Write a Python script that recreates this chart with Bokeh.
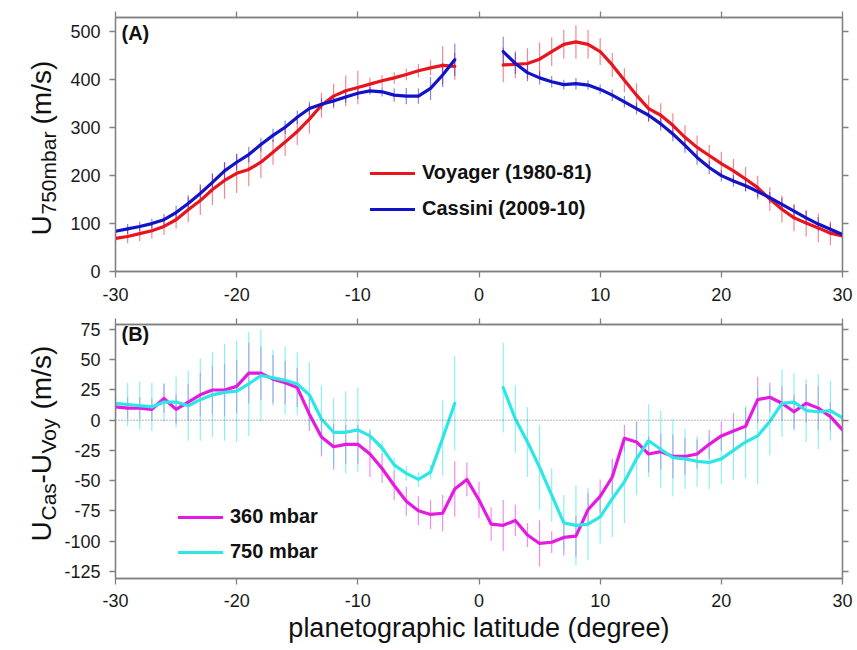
from bokeh.plotting import figure
from bokeh.models import (ColumnDataSource, Range1d, LinearAxis, Label, Legend,
                          LegendItem, FixedTicker, Span, CustomJSTickFormatter)
from bokeh.layouts import column, row
from bokeh.embed import file_html
from bokeh.resources import INLINE

# ---------------- data ----------------
x_ticks = [-30, -20, -10, 0, 10, 20, 30]
yA_ticks = [0, 100, 200, 300, 400, 500]
yB_ticks = [-125, -100, -75, -50, -25, 0, 25, 50, 75]

lat_s = list(range(-30, -1))   # -30 .. -2
lat_n = list(range(2, 31))     # 2 .. 30
lat_all = list(range(-30, 31)) # -30 .. 30

# Panel A: zonal wind at 750 mbar (m/s)
voy_s = [69, 73, 79, 85, 94, 108, 129, 148, 171, 190, 205, 213, 228, 249, 270,
         292, 318, 347, 366, 377, 384, 391, 398, 404, 411, 419, 425, 430, 428]
voy_s_err = [9, 14, 16, 16, 18, 19, 26, 30, 32, 38, 41, 35, 33, 26, 29,
             28, 30, 26, 26, 32, 35, 14, 12, 12, 12, 14, 16, 40, 28]
voy_n = [431, 432, 434, 443, 459, 474, 479, 474, 459, 431, 399, 368, 340, 326, 305,
         280, 259, 242, 225, 210, 193, 175, 151, 130, 112, 101, 91, 80, 74]
voy_n_err = [36, 28, 32, 35, 30, 30, 35, 30, 28, 25, 25, 25, 28, 25, 25,
             25, 25, 22, 25, 25, 25, 25, 25, 28, 28, 28, 30, 25, 10]
cas_s = [84, 89, 94, 100, 108, 123, 142, 163, 186, 210, 228, 244, 265, 284, 301,
         322, 340, 349, 356, 364, 372, 377, 375, 368, 366, 366, 382, 410, 442]
cas_s_err = [7, 10, 10, 10, 12, 14, 17, 19, 19, 18, 17, 16, 14, 14, 14,
             14, 14, 12, 12, 12, 12, 8, 10, 14, 17, 16, 24, 25, 34]
cas_n = [459, 434, 415, 404, 396, 390, 392, 389, 380, 368, 354, 340, 326, 308, 287,
         263, 238, 217, 200, 189, 179, 167, 154, 140, 126, 112, 99, 88, 77]
cas_n_err = [31, 22, 18, 14, 12, 10, 12, 10, 10, 12, 12, 12, 12, 14, 15,
             15, 15, 14, 12, 12, 12, 12, 12, 14, 14, 14, 14, 12, 8]

# Panel B: U_Cas - U_Voy (m/s)
d360 = [11, 10, 10, 9, 18, 9, 15, 21, 25, 25, 28, 39, 39, 34, 31, 27, 5, -14, -22, -20,
        -20, -28, -40, -54, -67, -75, -78, -77, -57, -49, -66, -86, -87, -83, -95, -102,
        -101, -97, -96, -74, -63, -47, -15, -18, -28, -26, -30, -30, -28, -20, -13, -9,
        -5, 17, 19, 14, 7, 14, 10, 3, -8]
d360_err = [8, 9, 9, 9, 12, 12, 15, 18, 20, 22, 22, 25, 22, 20, 18, 16, 14, 16, 19, 16,
            16, 19, 12, 12, 12, 12, 12, 15, 23, 14, 15, 14, 21, 13, 10, 19,
            9, 15, 17, 14, 14, 15, 11, 17, 15, 15, 18, 15, 12, 12, 12, 15,
            15, 19, 12, 14, 14, 16, 18, 12, 10]
d750_s = [14, 13, 12, 11, 15, 15, 12, 17, 21, 23, 24, 30, 37, 35, 33,
          30, 21, 1, -10, -10, -8, -13, -23, -37, -44, -49, -43, -15, 14]
d750_s_err = [18, 18, 20, 20, 16, 21, 29, 34, 35, 40, 42, 43, 38, 23, 28,
              26, 27, 28, 28, 34, 35, 6, 6, 6, 6, 6, 6, 31, 39]
d750_n = [27, 1, -18, -39, -62, -85, -87, -86, -80, -65, -51, -32, -17, -24, -31,
          -32, -34, -35, -32, -25, -18, -13, -1, 14, 15, 8, 7, 8, 2]
d750_n_err = [37, 28, 29, 35, 22, 23, 33, 30, 22, 32, 34, 30, 30, 32, 32,
              25, 21, 22, 21, 24, 30, 40, 28, 28, 24, 26, 31, 25, 20]

# ---------------- style ----------------
FONT = "Liberation Sans"
LW = 61            # width of the y-label strip
W = 857 - LW       # width of the two panels
C_VOY = "#e8141e"
C_CAS = "#1212c8"
C_360 = "#e619e1"
C_750 = "#2ee6e6"
AX_COL = "#808080"
TXT = "#111111"

fmt = CustomJSTickFormatter(code="return tick.toString();")


def style_axis(ax, labels, standoff):
    ax.axis_line_color = AX_COL
    ax.axis_line_width = 1.3
    ax.major_tick_line_color = AX_COL
    ax.major_tick_line_width = 1.3
    ax.major_tick_out = 6
    ax.major_tick_in = 0
    ax.minor_tick_line_color = None
    ax.major_label_text_font = FONT
    ax.major_label_text_color = "#1a1a1a"
    ax.formatter = fmt
    if labels:
        ax.major_label_text_font_size = "18px"
        ax.major_label_standoff = standoff
    else:
        ax.major_label_text_font_size = "0px"
        ax.major_label_text_alpha = 0
        ax.major_label_standoff = 0


def make_panel(yr, yticks, height, top, bottom, bottom_standoff, xlabel=None):
    p = figure(width=W, height=height, x_range=Range1d(-30, 30), y_range=Range1d(*yr),
               output_backend="svg", toolbar_location=None, tools="",
               x_axis_location=None, y_axis_location=None,
               min_border_left=115 - LW, min_border_right=857 - 842,
               min_border_top=top, min_border_bottom=bottom,
               outline_line_color=AX_COL, outline_line_width=1.3,
               background_fill_color="white", border_fill_color="white")
    p.grid.visible = False
    xt = FixedTicker(ticks=x_ticks, minor_ticks=[])
    yt = FixedTicker(ticks=yticks, minor_ticks=[])
    for loc, tk, lab, so in [("below", xt, True, bottom_standoff), ("above", xt, False, 0),
                             ("left", yt, True, 9), ("right", yt, False, 0)]:
        ax = LinearAxis(ticker=tk)
        style_axis(ax, lab, so)
        if loc == "below" and xlabel:
            ax.axis_label = xlabel
            ax.axis_label_text_font = FONT
            ax.axis_label_text_font_size = "27px"
            ax.axis_label_text_font_style = "normal"
            ax.axis_label_text_color = TXT
            ax.axis_label_standoff = 3
        p.add_layout(ax, loc)
    return p


def errbars(p, x, y, e, color, alpha):
    src = ColumnDataSource(dict(x=x, lo=[a - b for a, b in zip(y, e)],
                                hi=[a + b for a, b in zip(y, e)]))
    p.segment(x0="x", y0="lo", x1="x", y1="hi", source=src,
              line_color=color, line_alpha=alpha, line_width=1.2)


def curve(p, x, y, color):
    src = ColumnDataSource(dict(x=x, y=y))
    return p.line("x", "y", source=src, line_color=color, line_width=3.2,
                  line_join="round", line_cap="round")


def legend(items, loc, spacing):
    return Legend(items=items, location=loc, border_line_color=None,
                  background_fill_alpha=0, padding=0, margin=0,
                  glyph_width=45, glyph_height=20, label_standoff=7,
                  spacing=spacing, label_height=20,
                  label_text_font=FONT, label_text_font_style="bold",
                  label_text_font_size="20px", label_text_color=TXT)


# ---------------- panel A ----------------
pA = make_panel((0, 530), yA_ticks, 310, 17, 39, 10)
errbars(pA, lat_s, voy_s, voy_s_err, C_VOY, 0.5)
errbars(pA, lat_n, voy_n, voy_n_err, C_VOY, 0.5)
errbars(pA, lat_s, cas_s, cas_s_err, C_CAS, 0.5)
errbars(pA, lat_n, cas_n, cas_n_err, C_CAS, 0.5)
rv = curve(pA, lat_s, voy_s, C_VOY)
curve(pA, lat_n, voy_n, C_VOY)
rc = curve(pA, lat_s, cas_s, C_CAS)
curve(pA, lat_n, cas_n, C_CAS)
pA.add_layout(legend([LegendItem(label="Voyager (1980-81)", renderers=[rv]),
                      LegendItem(label="Cassini (2009-10)", renderers=[rc])],
                     (255, 51), 13))
pA.add_layout(Label(x=-30, y=530, x_offset=6, y_offset=-15, text="(A)",
                    text_font=FONT, text_font_style="bold", text_font_size="20px",
                    text_baseline="middle", text_color=TXT))

# ---------------- panel B ----------------
pB = make_panel((-131, 79.2), yB_ticks, 340, 14, 72, 9,
                xlabel="planetographic latitude (degree)")
pB.add_layout(Span(location=0, dimension="width", line_color="#555555",
                   line_dash="1 2", line_width=0.9))
errbars(pB, lat_all, d360, d360_err, C_360, 0.5)
errbars(pB, lat_s, d750_s, d750_s_err, C_750, 0.55)
errbars(pB, lat_n, d750_n, d750_n_err, C_750, 0.55)
r360 = curve(pB, lat_all, d360, C_360)
r750 = curve(pB, lat_s, d750_s, C_750)
curve(pB, lat_n, d750_n, C_750)
pB.add_layout(legend([LegendItem(label="360 mbar", renderers=[r360]),
                      LegendItem(label="750 mbar", renderers=[r750])],
                     (63, 15), 12))
pB.add_layout(Label(x=-30, y=79.2, x_offset=6, y_offset=-9, text="(B)",
                    text_font=FONT, text_font_style="bold", text_font_size="20px",
                    text_baseline="middle", text_color=TXT))

# ---------------- y-label strip (page pixel coordinates) ----------------
pL = figure(width=LW, height=650, x_range=Range1d(0, LW), y_range=Range1d(650, 0),
            output_backend="svg", toolbar_location=None, tools="",
            x_axis_location=None, y_axis_location=None,
            min_border_left=0, min_border_right=0, min_border_top=0, min_border_bottom=0,
            outline_line_color=None, background_fill_color="white",
            border_fill_color="white")
pL.grid.visible = False

# (text, font px, baseline x, start y)
ylabel_A = [("U", 28, 41, 235), ("750mbar", 21, 48, 214), ("(m/s)", 28, 41, 124)]
ylabel_B = [("U", 28, 41, 541), ("Cas", 21, 48, 520), ("-U", 28, 41, 483),
            ("Voy", 21, 48, 453), ("(m/s)", 28, 41, 409)]
for txt, size, bx, sy in ylabel_A + ylabel_B:
    pL.add_layout(Label(x=bx, y=sy, text=txt, angle=90, angle_units="deg",
                        text_font=FONT, text_font_size=f"{size}px", text_color=TXT,
                        text_align="left", text_baseline="alphabetic"))

layout = row(pL, column(pA, pB, spacing=0), spacing=0)
open("out.html", "w").write(file_html(layout, INLINE))
